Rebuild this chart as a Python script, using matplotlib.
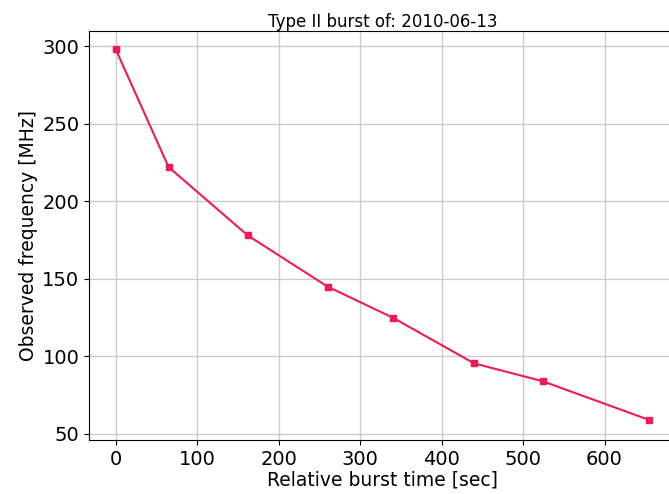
import matplotlib
matplotlib.use("Agg")
import matplotlib.pyplot as plt

times = [0, 65, 162, 260, 340, 440, 524, 655]
freqs = [298, 222, 178, 145, 125, 95.5, 84, 59]
xticks = [0, 100, 200, 300, 400, 500, 600]
yticks = [50, 100, 150, 200, 250, 300]

fig = plt.figure(figsize=(6.69, 4.94), dpi=100)
ax = fig.add_axes([89/669, 1-440/494, (676-89)/669, (440-31)/494])
ax.plot(times, freqs, color="#f01a55", marker="s", markersize=4, linewidth=1.5)
ax.set_xticks(xticks)
ax.set_yticks(yticks)
ax.set_xlim(-32.75, 687.75)
ax.set_ylim(46.1, 309.7)
ax.grid(True, color="#cccccc", linewidth=1)
ax.set_axisbelow(True)
ax.tick_params(labelsize=14)
ax.set_xlabel("Relative burst time [sec]", fontsize=13.5, labelpad=1)
ax.set_ylabel("Observed frequency [MHz]", fontsize=13.5, labelpad=3)
ax.set_title("Type II burst of: 2010-06-13", fontsize=12, pad=3)
fig.savefig("out.png", dpi=100)
